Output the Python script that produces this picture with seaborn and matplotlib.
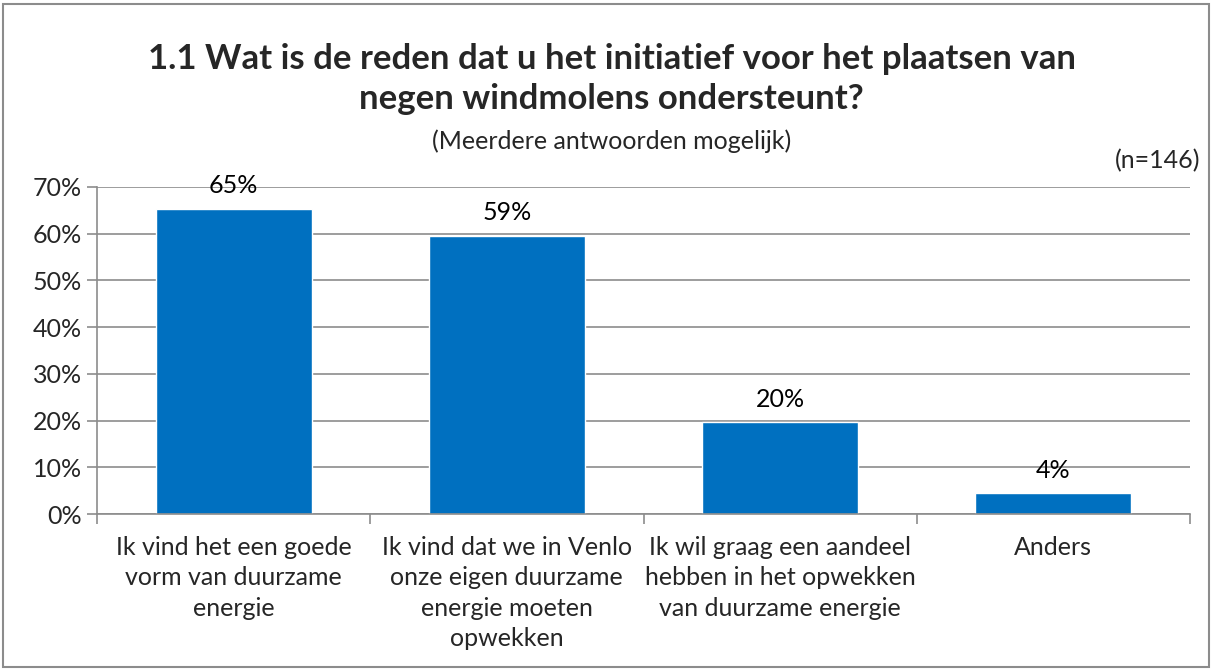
import matplotlib

matplotlib.use("Agg")
import matplotlib.pyplot as plt
import pandas as pd
import seaborn as sns
from matplotlib.patches import Rectangle
from matplotlib.ticker import FixedLocator, PercentFormatter

categories = [
    "Ik vind het een goede\nvorm van duurzame\nenergie",
    "Ik vind dat we in Venlo\nonze eigen duurzame\nenergie moeten\nopwekken",
    "Ik wil graag een aandeel\nhebben in het opwekken\nvan duurzame energie",
    "Anders",
]
values = [65.3, 59.5, 19.6, 4.4]
labels = ["65%", "59%", "20%", "4%"]

title = "1.1 Wat is de reden dat u het initiatief voor het plaatsen van\nnegen windmolens ondersteunt?"
subtitle = "(Meerdere antwoorden mogelijk)"
n_note = "(n=146)"

BLUE = "#0070C0"
GRID = "#8c8c8c"
FS = 18

sns.set_theme(style="white")
plt.rcParams["font.family"] = ["Lato", "DejaVu Sans"]

df = pd.DataFrame({"category": categories, "value": values})

fig = plt.figure(figsize=(12.14, 6.71), dpi=100)
ax = fig.add_axes([97 / 1214, 1 - 514 / 671, (1190 - 97) / 1214, (514 - 187) / 671])

sns.barplot(data=df, x="category", y="value", color=BLUE, width=0.57,
            saturation=1, ax=ax)

ax.set_ylim(0, 70)
ax.set_xlim(-0.5, 3.5)
ax.set_yticks(range(0, 71, 10))
ax.yaxis.set_major_formatter(PercentFormatter(decimals=0))
ax.yaxis.grid(True, color=GRID, linewidth=1.2)
ax.set_axisbelow(True)
ax.set_xlabel("")
ax.set_ylabel("")

for s in ["top", "right"]:
    ax.spines[s].set_visible(False)
for s in ["left", "bottom"]:
    ax.spines[s].set_color(GRID)
    ax.spines[s].set_linewidth(1.2)

ax.tick_params(axis="y", which="major", length=7, color=GRID, width=1.2,
               labelsize=FS, pad=4, left=True)
ax.tick_params(axis="x", which="major", length=0, labelsize=FS, pad=16)
ax.xaxis.set_minor_locator(FixedLocator([-0.5, 0.5, 1.5, 2.5, 3.5]))
ax.tick_params(axis="x", which="minor", length=7, color=GRID, width=1.2,
               bottom=True)
for t in ax.get_xticklabels():
    t.set_linespacing(1.38)

for i, (v, lab) in enumerate(zip(values, labels)):
    ax.text(i, v + 5.0, lab, ha="center", va="center", fontsize=FS, color="black")

fig.text(0.504, 1 - 79 / 671, title, ha="center", va="center", fontsize=25,
         fontweight="bold", linespacing=1.33)
fig.text(0.504, 1 - 141 / 671, subtitle, ha="center", va="center", fontsize=FS)
fig.text(1200 / 1214, 1 - 161 / 671, n_note, ha="right", va="center", fontsize=FS)

fig.patches.append(Rectangle((3 / 1214, 4 / 671), 1206 / 1214, 663 / 671,
                             transform=fig.transFigure, fill=False,
                             edgecolor=GRID, linewidth=1.5))

fig.savefig("out.png", dpi=100)
